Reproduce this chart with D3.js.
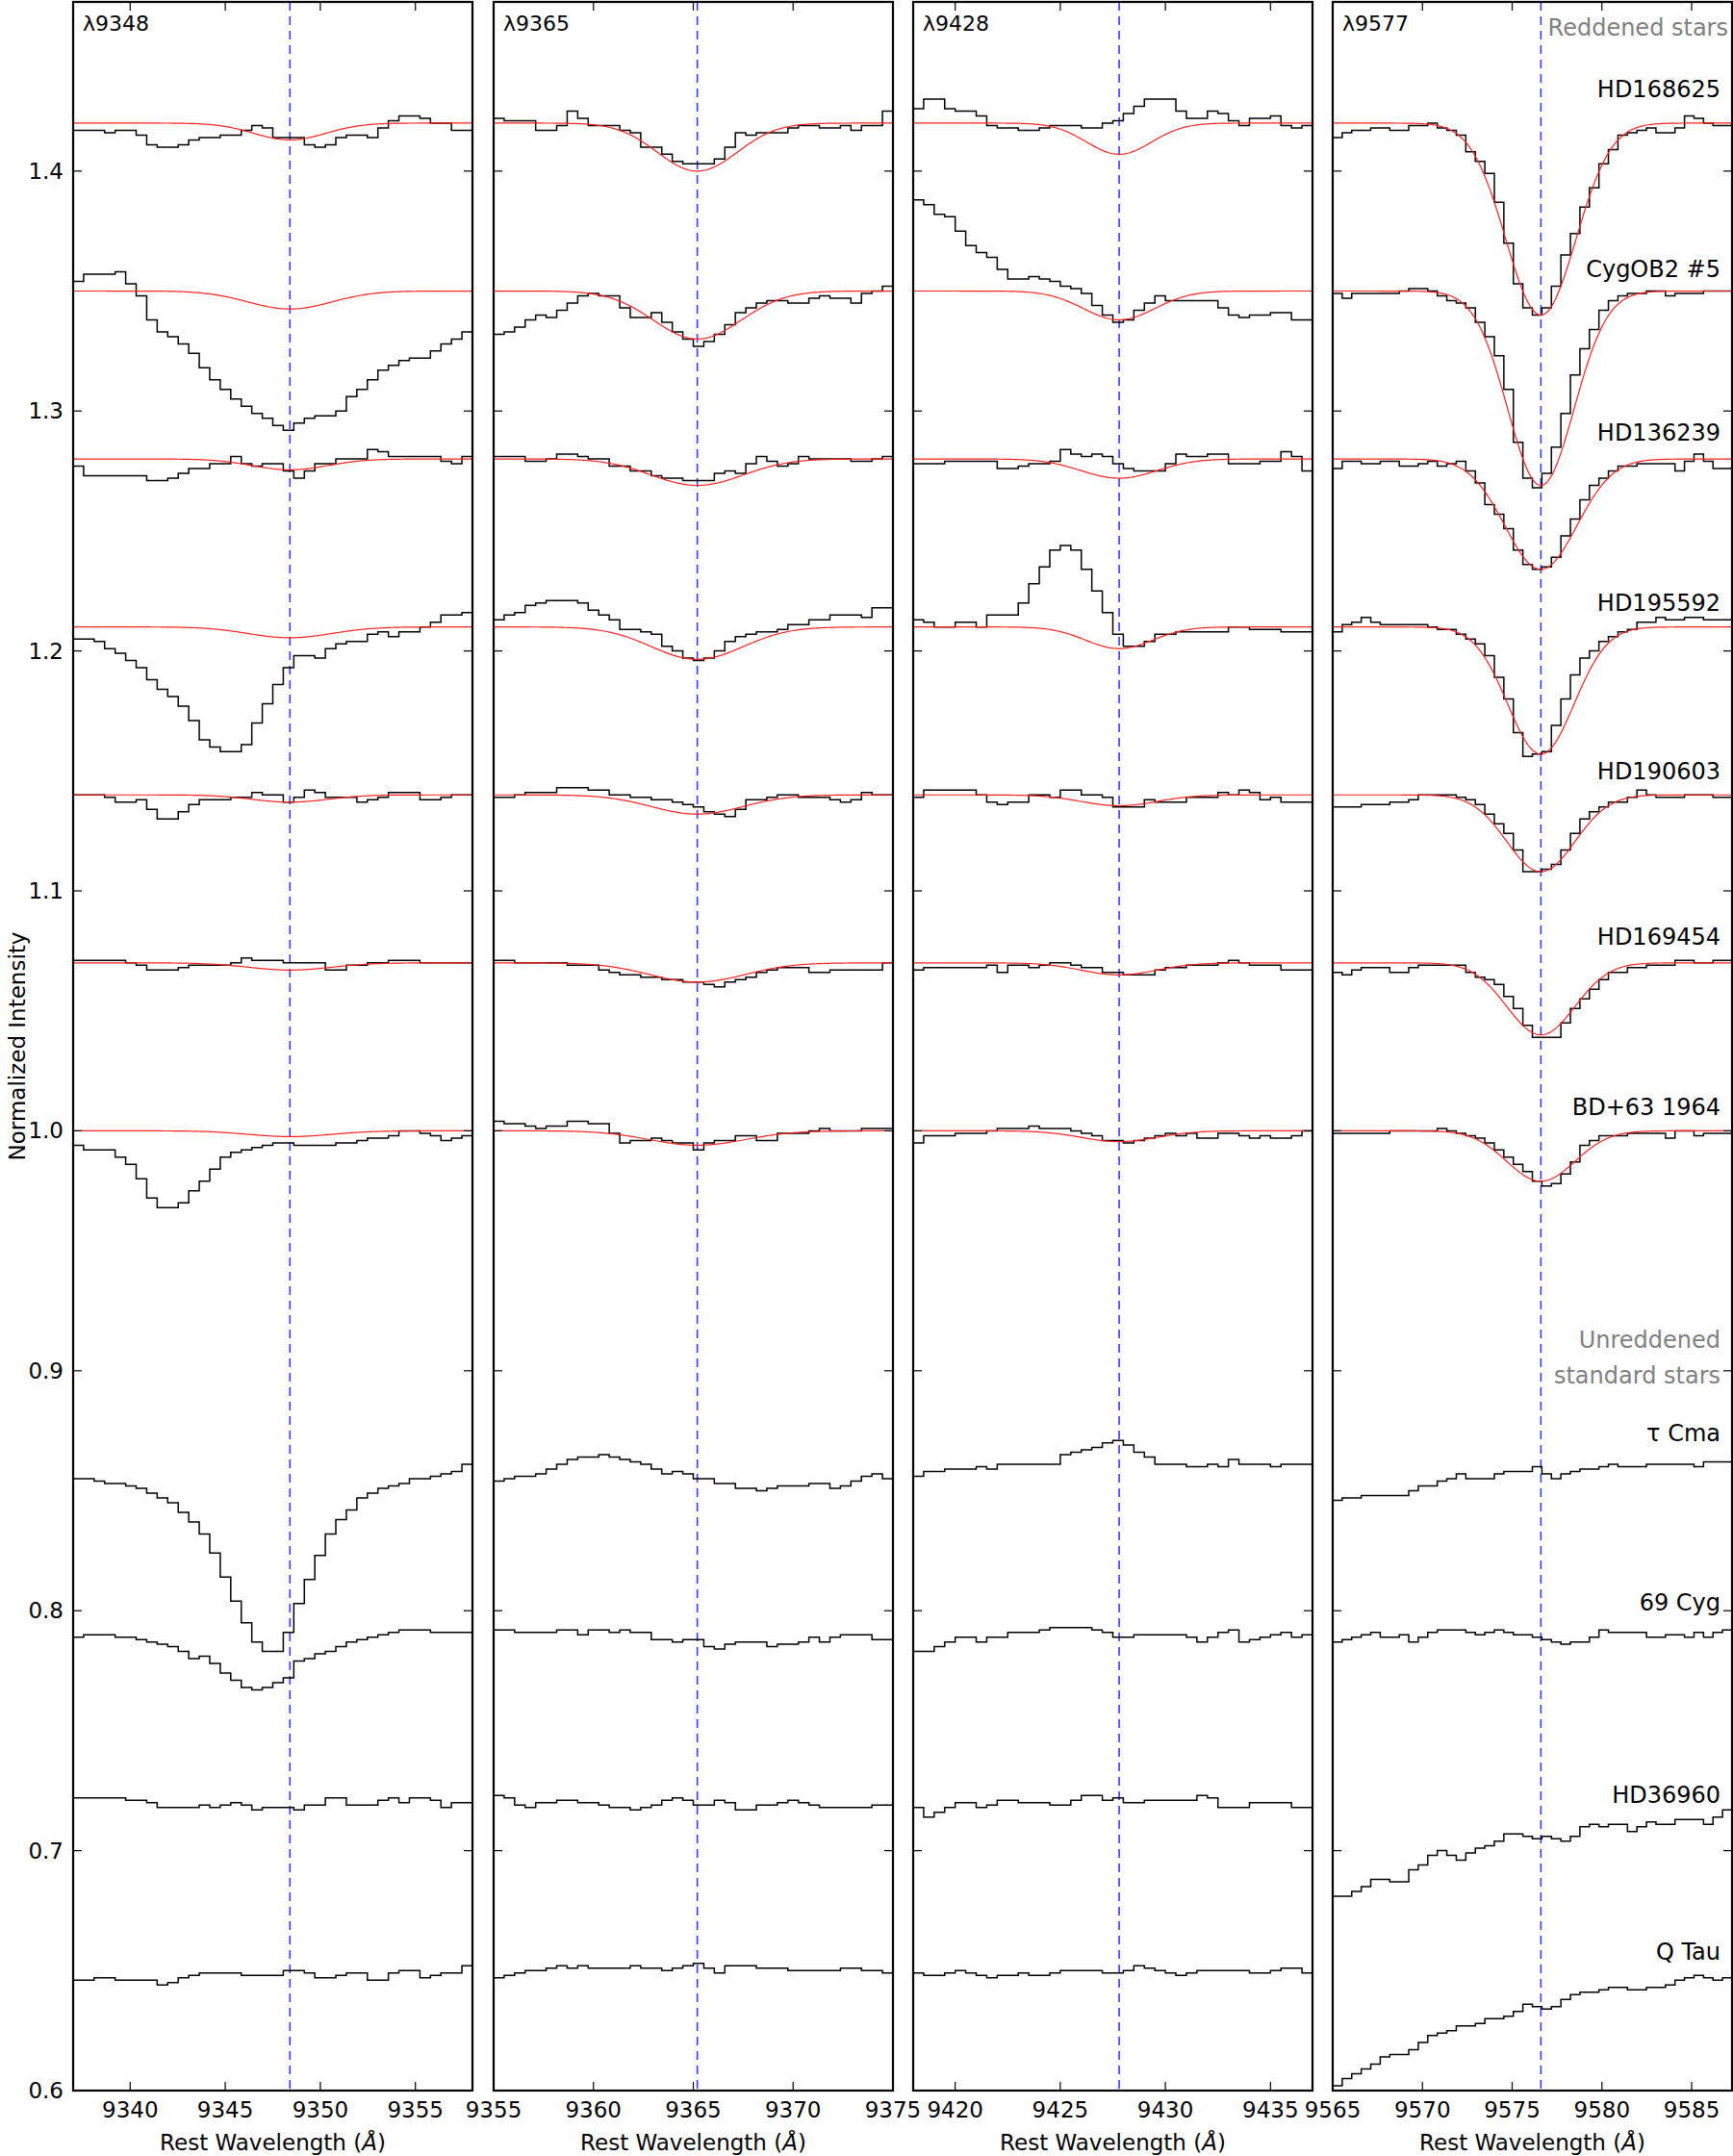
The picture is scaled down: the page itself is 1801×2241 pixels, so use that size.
<!DOCTYPE html>
<html>
<head>
<meta charset="utf-8">
<script src="https://cdn.jsdelivr.net/npm/d3@7"></script>
<style>
  body { margin: 0; background: #fff; }
  text { font-family: "DejaVu Sans", sans-serif; }
</style>
</head>
<body>
<svg id="chart" width="1801" height="2241"></svg>
<script>
// star names and vertical offsets of each spectrum
var stars = ["HD168625", "CygOB2 #5", "HD136239", "HD195592", "HD190603", "HD169454", "BD+63 1964",
             "\u03c4 Cma", "69 Cyg", "HD36960", "Q Tau"];
var offsets = [1.42, 1.35, 1.28, 1.21, 1.14, 1.07, 1.00, 0.86, 0.79, 0.72, 0.65];
var labelY = [1.434, 1.359, 1.291, 1.220, 1.150, 1.081, 1.010, 0.874, 0.8035, 0.7234, 0.658];

var bands = ["\u03bb9348", "\u03bb9365", "\u03bb9428", "\u03bb9577"];
var xDomains = [[9337, 9358], [9355, 9375], [9418, 9437], [9565, 9587.25]];
var xTicks = [[9340, 9345, 9350, 9355], [9355, 9360, 9365, 9370, 9375], [9420, 9425, 9430, 9435], [9565, 9570, 9575, 9580, 9585]];
var centers = [9348.4, 9365.2, 9427.8, 9576.6];
var yTicks = [0.6, 0.7, 0.8, 0.9, 1.0, 1.1, 1.2, 1.3, 1.4];

// spectra: deviation from offset, in units of 0.001, equal bins across each panel
var spec1 = [
  [-3,-3,-3,-4,-3,-3,-5,-9,-10,-10,-9,-7,-6,-6,-5,-5,-3,-1,-2,-6,-6,-6,-9,-10,-9,-6,-5,-5,-6,-2,1,3,3,2,0,0,-3,-3],
  [4,7,7,7,8,3,-2,-12,-17,-19,-22,-26,-32,-37,-41,-45,-48,-51,-53,-56,-58,-55,-53,-52,-52,-50,-44,-41,-37,-33,-31,-29,-28,-28,-25,-22,-20,-17],
  [-3,-7,-7,-7,-7,-7,-7,-9,-9,-8,-6,-4,-4,-2,-2,1,-2,-3,-2,-2,-5,-8,-5,-2,-2,0,0,0,4,3,1,1,1,1,1,-1,-2,1],
  [-5,-5,-6,-9,-11,-14,-17,-22,-26,-29,-33,-39,-47,-50,-52,-52,-49,-40,-32,-24,-17,-12,-12,-13,-9,-7,-6,-6,-3,-2,-4,-2,-2,0,2,5,5,6],
  [0,0,0,-1,-3,-3,-2,-6,-10,-10,-7,-4,-2,-2,-2,-1,-1,1,0,0,-3,-1,2,1,-1,-1,-1,-3,-2,-1,1,1,1,-2,-2,-1,0,0],
  [1,1,1,1,1,0,-1,-3,-3,-3,-2,-1,-1,-1,-1,0,2,1,1,1,0,0,0,0,-3,-3,-1,-1,0,0,1,1,1,0,0,0,0,0],
  [-6,-8,-8,-8,-11,-14,-20,-28,-32,-32,-30,-25,-21,-16,-11,-9,-8,-7,-6,-5,-5,-6,-6,-6,-6,-5,-5,-4,-3,-3,-2,0,0,-1,-2,-4,-3,-2],
  [-5,-5,-6,-7,-7,-8,-9,-11,-13,-15,-19,-23,-28,-36,-46,-56,-65,-73,-77,-77,-69,-57,-47,-37,-28,-22,-18,-13,-11,-9,-8,-7,-5,-5,-4,-3,-2,1],
  [-1,0,0,0,-1,-1,-2,-3,-4,-5,-7,-10,-9,-12,-16,-19,-22,-23,-22,-20,-18,-11,-10,-8,-7,-5,-3,-2,-1,0,1,2,2,2,1,1,1,1],
  [2,2,2,2,2,1,1,0,-2,-2,-2,-2,-1,-2,-1,0,-1,-3,-2,-2,-2,-3,-1,-1,2,2,-1,-1,-1,1,2,0,2,2,1,-2,0,0],
  [-4,-4,-3,-3,-4,-4,-4,-4,-6,-5,-3,-2,-1,-1,-1,-1,-2,-2,-2,-2,0,0,-1,-3,-3,-2,-1,-1,-4,-4,-1,0,0,-3,-2,-1,-1,2]
];
var spec2 = [
  [2,1,1,1,-3,-3,-1,5,2,-1,-1,-1,-3,-4,-10,-10,-13,-16,-17,-17,-17,-15,-10,-4,-5,-4,-4,-4,-2,-1,-1,-2,-2,-1,-3,-1,-1,5],
  [-18,-17,-15,-12,-10,-11,-8,-5,-2,-1,-2,-2,-7,-11,-11,-9,-13,-17,-20,-23,-21,-18,-14,-9,-7,-5,-4,-4,-5,-5,-3,-2,-3,-3,-5,-1,0,2],
  [1,1,1,-1,-1,0,2,2,1,0,0,-3,-3,-5,-5,-7,-8,-8,-9,-9,-9,-6,-5,-6,-2,1,-1,-3,-2,1,0,0,0,0,-1,-1,0,1],
  [3,5,6,9,10,11,11,11,10,7,5,3,-1,-1,-2,-3,-8,-10,-13,-14,-13,-10,-6,-4,-3,-2,-2,-1,1,1,3,3,5,5,5,4,8,8],
  [-1,-1,0,1,1,1,3,3,3,2,2,0,0,-1,-1,-2,-2,-3,-4,-5,-7,-8,-9,-6,-2,-2,-1,0,0,-1,-1,-1,-2,-3,-2,1,0,0],
  [1,1,0,0,0,0,0,-1,-1,-1,-3,-4,-5,-5,-6,-6,-7,-7,-8,-8,-9,-10,-8,-7,-6,-4,-3,-2,-2,-2,-4,-4,-3,-3,-3,-3,-3,0],
  [4,3,3,2,1,2,2,4,4,3,3,-1,-5,-4,-4,-3,-4,-5,-5,-8,-5,-4,-4,-2,-2,-4,-4,-1,-1,-1,0,1,0,0,0,1,1,1],
  [-6,-5,-4,-4,-3,-1,1,3,4,4,5,4,3,2,1,-1,-3,-2,-3,-5,-5,-7,-7,-9,-9,-10,-9,-8,-8,-8,-7,-7,-9,-8,-6,-4,-3,-5],
  [2,2,1,1,1,1,2,2,0,2,2,1,2,1,1,-2,-2,-3,-2,-2,-5,-6,-4,-3,-3,-3,-5,-4,-4,-3,-1,-3,-1,0,0,0,-2,-2],
  [3,2,-1,-2,0,0,1,1,0,0,-1,-2,-2,-3,-2,-1,1,2,1,-1,-1,1,0,-3,-3,-1,-1,0,1,0,-1,-2,-2,-2,-2,-2,-1,-1],
  [-3,-2,-1,0,0,1,2,1,2,1,1,1,1,2,1,1,0,1,2,3,1,-1,2,2,2,1,1,1,0,0,0,0,0,1,1,0,0,-1]
];
var spec3 = [
  [6,10,10,6,5,5,3,-1,-2,-2,-3,-3,-2,-1,-1,-1,-2,-2,0,1,4,7,10,10,10,5,2,2,5,4,1,-1,2,2,3,-1,-2,-1],
  [38,36,32,31,25,19,16,14,9,5,5,6,5,4,2,1,-1,-6,-10,-13,-12,-8,-5,-2,-4,-4,-4,-4,-4,-7,-10,-11,-10,-10,-9,-9,-12,-12],
  [-2,-2,-2,-1,-1,-1,-1,-1,-4,-4,-3,-2,-2,-1,4,2,1,2,1,-2,-4,-5,-5,-5,-2,2,1,1,2,2,-2,-2,-2,-1,-1,3,1,-5],
  [3,2,0,0,2,2,0,5,5,5,10,18,25,32,34,32,24,15,6,-3,-8,-8,-6,-3,-3,-2,-2,-2,-2,-2,0,0,-1,-1,-1,-2,-2,-2],
  [-1,2,2,2,2,2,0,-3,-4,-3,-3,0,0,-1,2,2,0,0,-1,-5,-5,-5,-2,-3,-3,-3,-1,-1,-1,1,0,2,1,-2,-1,-3,-3,-3],
  [-3,-2,-2,-2,-2,-2,-2,-1,-4,-1,-1,-2,-1,0,0,-1,-2,-2,-4,-4,-5,-5,-5,-3,-2,-2,-1,-1,-1,0,1,0,-1,-1,-1,-3,-3,-3],
  [-5,-2,-2,-2,-1,-1,-1,0,1,1,1,2,1,1,1,0,-1,-2,-4,-4,-5,-4,-3,-2,-1,-2,-1,-3,-3,-1,-1,-2,-3,-2,-3,-3,-2,0],
  [-4,-2,-2,-1,-1,-1,0,-1,1,1,1,1,1,1,5,6,7,8,10,11,9,6,4,1,1,1,0,0,1,0,3,1,1,1,0,1,1,1],
  [-7,-7,-5,-3,-1,-1,-3,-1,-1,1,1,1,2,3,3,3,3,2,1,-1,-1,0,0,0,0,0,-1,-3,-1,1,2,-3,-2,-1,0,1,-1,0],
  [-2,-6,-4,-2,0,0,-2,-1,1,1,0,0,0,-1,-1,1,3,3,1,2,0,0,1,1,1,1,1,3,2,-2,-2,-2,0,0,0,0,-2,-2],
  [-1,-2,-2,-1,0,-1,-2,-3,-2,-2,-1,-2,-2,-1,0,0,0,0,-1,-1,0,2,1,0,-1,-2,-1,0,0,0,0,0,-1,-1,0,1,1,-1]
];
var spec4 = [
  [-6,-4,-3,-3,-2,-2,-3,-3,-1,-1,0,-2,-3,-5,-12,-16,-21,-33,-50,-67,-77,-80,-77,-68,-55,-46,-35,-27,-17,-11,-5,-4,-3,-2,-4,-4,-2,3,2,0,-1,-1],
  [-1,-3,-1,-1,-1,-1,-1,0,1,1,0,-2,-4,-5,-7,-13,-19,-27,-41,-63,-78,-82,-76,-65,-51,-35,-24,-16,-8,-4,-2,-1,-1,0,0,-2,-1,-1,-1,0,0,0],
  [-4,-1,-1,-2,-2,-1,-1,-3,-3,-2,-1,-3,-2,-1,-5,-10,-19,-23,-29,-38,-44,-46,-45,-41,-32,-25,-17,-11,-8,-5,-3,-3,-2,-2,-2,-2,-5,-1,2,-1,-4,-4],
  [-2,1,2,4,2,1,1,1,1,1,0,-1,-1,-3,-5,-7,-12,-21,-30,-44,-54,-53,-52,-41,-30,-20,-13,-10,-6,-4,-2,-1,2,2,4,3,3,4,4,3,3,3],
  [-5,-5,-5,-4,-4,-4,-3,-3,-2,0,0,0,0,-1,-2,-4,-8,-12,-16,-23,-32,-32,-31,-29,-23,-16,-10,-7,-5,-3,-3,-1,2,0,-1,-1,-1,0,0,0,-1,-1],
  [-4,-5,-3,-2,-2,-2,-4,-4,-2,-1,-1,-1,-1,-1,-4,-6,-7,-9,-14,-19,-26,-31,-31,-31,-25,-19,-15,-11,-7,-4,-4,-2,-2,-1,-1,-1,1,1,0,0,1,1],
  [-1,-1,-1,-1,-1,-1,0,0,0,0,0,1,0,-1,-2,-3,-5,-8,-11,-14,-17,-21,-23,-22,-18,-13,-6,-4,-2,-2,-2,-1,-1,-1,-1,-3,0,0,-2,-1,-1,-1],
  [-14,-13,-13,-12,-12,-12,-12,-12,-10,-8,-8,-6,-5,-3,-5,-5,-5,-3,-2,-2,-2,0,-3,-5,-3,-2,-1,-1,0,1,0,0,0,1,1,1,1,1,0,2,2,2],
  [-3,-2,-1,0,1,-1,-1,0,-3,-1,1,2,2,2,1,0,1,2,1,0,0,-1,-2,-3,-4,-3,-3,-1,2,1,1,1,1,-1,-1,0,0,-1,1,-1,1,2],
  [-39,-39,-37,-35,-32,-32,-33,-33,-28,-26,-22,-20,-22,-24,-21,-19,-18,-16,-13,-13,-14,-15,-14,-15,-16,-14,-10,-9,-10,-9,-9,-12,-10,-8,-9,-9,-7,-7,-7,-9,-6,-3],
  [-48,-45,-43,-41,-39,-36,-35,-35,-33,-30,-27,-26,-25,-23,-23,-22,-20,-20,-19,-17,-14,-15,-16,-15,-12,-10,-9,-9,-8,-7,-7,-8,-8,-7,-7,-6,-4,-3,-2,-3,-4,-3]
];
var spectra = [spec1, spec2, spec3, spec4];

// gaussian fits for the reddened stars: depth (0.001) and sigma (Angstrom)
var fitDepth = [
  [7, 7.5, 4.5, 4.5, 3, 3, 2.4],
  [20, 20, 11, 13.5, 8, 8, 6],
  [13, 12, 8, 9, 4.5, 5, 4.5],
  [80, 81, 46, 53, 32, 30, 21]
];
var fitSigma = [
  [1.9, 2.2, 2.0, 2.2, 2.0, 2.2, 2.2],
  [2.0, 2.2, 2.3, 2.3, 2.3, 2.4, 2.4],
  [1.55, 1.7, 1.8, 1.6, 1.8, 1.8, 1.8],
  [1.95, 1.85, 2.0, 1.85, 1.9, 1.9, 1.9]
];

var svg = d3.select("#chart");
var panelX = [76, 513, 949, 1385],
    panelW = 415,
    plotTop = 2,
    plotBottom = 2173;

var y = d3.scaleLinear().domain([0.6, 1.4705]).range([plotBottom, plotTop]);

for (let p = 0; p < 4; p++) {
    var g = svg.append("g").attr("transform", "translate(" + panelX[p] + ",0)");
    var x = d3.scaleLinear().domain(xDomains[p]).range([0, panelW]);

    g.append("line")
        .attr("x1", x(centers[p])).attr("x2", x(centers[p]))
        .attr("y1", plotTop).attr("y2", plotBottom)
        .style("stroke", "#3a3aff").style("stroke-width", 1.6)
        .style("stroke-dasharray", "9,6");

    var lo = xDomains[p][0], hi = xDomains[p][1];
    spectra[p].forEach(function(vals, s) {
        var w = (hi - lo) / vals.length;
        var pts = vals.map(function(v, i) { return [lo + i * w, offsets[s] + v / 1000]; });
        pts.push([hi, offsets[s] + vals[vals.length - 1] / 1000]);
        var line = d3.line().curve(d3.curveStepAfter)
            .x(function(d) { return x(d[0]); })
            .y(function(d) { return y(d[1]); });
        g.append("path").attr("d", line(pts))
            .style("fill", "none").style("stroke", "#000").style("stroke-width", 1.5);
    });

    fitDepth[p].forEach(function(dep, s) {
        var sig = fitSigma[p][s];
        var pts = d3.range(0, 301).map(function(i) {
            var wl = lo + (hi - lo) * i / 300;
            return [wl, offsets[s] - dep / 1000 * Math.exp(-Math.pow(wl - centers[p], 2) / (2 * sig * sig))];
        });
        var line = d3.line().x(function(d) { return x(d[0]); }).y(function(d) { return y(d[1]); });
        g.append("path").attr("d", line(pts))
            .style("fill", "none").style("stroke", "#ff2020").style("stroke-width", 1.2);
    });

    // frame and ticks
    g.append("rect").attr("x", 0).attr("y", plotTop).attr("width", panelW).attr("height", plotBottom - plotTop)
        .style("fill", "none").style("stroke", "#000").style("stroke-width", 2.2);

    xTicks[p].forEach(function(t) {
        g.append("line").attr("x1", x(t)).attr("x2", x(t)).attr("y1", plotBottom).attr("y2", plotBottom - 9)
            .style("stroke", "#000").style("stroke-width", 1.2);
        g.append("line").attr("x1", x(t)).attr("x2", x(t)).attr("y1", plotTop).attr("y2", plotTop + 9)
            .style("stroke", "#000").style("stroke-width", 1.2);
        g.append("text").attr("x", x(t)).attr("y", plotBottom + 28)
            .attr("text-anchor", "middle").style("font-size", "23px").text(t);
    });
    yTicks.forEach(function(t) {
        g.append("line").attr("x1", 0).attr("x2", 9).attr("y1", y(t)).attr("y2", y(t))
            .style("stroke", "#000").style("stroke-width", 1.2);
        g.append("line").attr("x1", panelW).attr("x2", panelW - 9).attr("y1", y(t)).attr("y2", y(t))
            .style("stroke", "#000").style("stroke-width", 1.2);
        if (p == 0) {
            g.append("text").attr("x", -10).attr("y", y(t)).attr("dy", ".35em")
                .attr("text-anchor", "end").style("font-size", "23px").text(d3.format(".1f")(t));
        }
    });

    g.append("text").attr("x", 10).attr("y", 32).style("font-size", "22px").text(bands[p]);

    var xl = g.append("text").attr("x", panelW / 2).attr("y", 2235)
        .attr("text-anchor", "middle").style("font-size", "23px");
    xl.append("tspan").text("Rest Wavelength (");
    xl.append("tspan").style("font-style", "italic").text("\u00c5");
    xl.append("tspan").text(")");

    if (p == 3) {
        stars.forEach(function(name, s) {
            g.append("text").attr("x", panelW - 12).attr("y", y(labelY[s])).attr("dy", ".35em")
                .attr("text-anchor", "end").style("font-size", "24px").text(name);
        });
        g.append("text").attr("x", panelW - 4).attr("y", y(1.46)).attr("dy", ".35em")
            .attr("text-anchor", "end").style("font-size", "24px").style("fill", "#808080").text("Reddened stars");
        g.append("text").attr("x", panelW - 12).attr("y", y(0.913)).attr("dy", ".35em")
            .attr("text-anchor", "end").style("font-size", "24px").style("fill", "#808080").text("Unreddened");
        g.append("text").attr("x", panelW - 12).attr("y", y(0.898)).attr("dy", ".35em")
            .attr("text-anchor", "end").style("font-size", "24px").style("fill", "#808080").text("standard stars");
    }
}

svg.append("text").attr("transform", "translate(18," + ((plotTop + plotBottom) / 2) + ") rotate(-90)")
    .attr("text-anchor", "middle").attr("dy", ".35em").style("font-size", "23px").text("Normalized Intensity");
</script>
</body>
</html>
